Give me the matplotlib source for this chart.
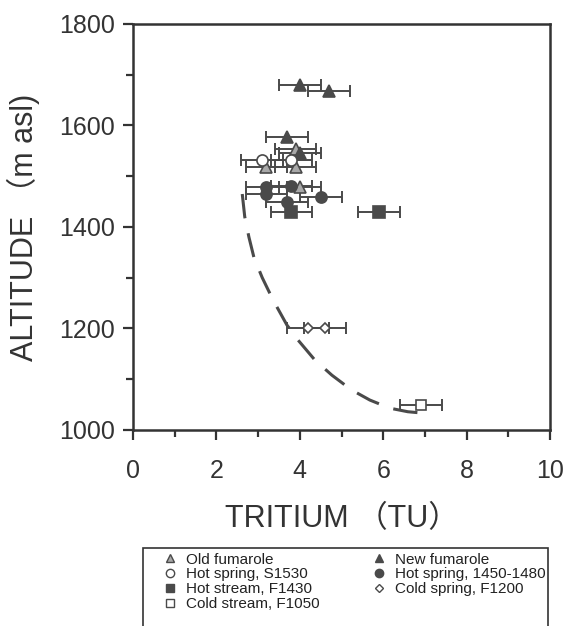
import matplotlib
matplotlib.use("Agg")
import matplotlib.pyplot as plt
from matplotlib.patches import Rectangle
from matplotlib.lines import Line2D

plt.rcParams['font.family'] = ['Liberation Sans', 'Noto Sans CJK SC', 'DejaVu Sans']

# datos
old_fum_x = [3.9, 3.2, 3.9, 4.0]
old_fum_y = [1554, 1518, 1518, 1478]

new_fum_x = [4.0, 4.7, 3.7, 4.0]
new_fum_y = [1680, 1667, 1577, 1546]

hs_s1530_x = [3.1, 3.8]
hs_s1530_y = [1532, 1532]

hs_1450_x = [3.2, 3.8, 3.2, 4.5, 3.7]
hs_1450_y = [1478, 1480, 1465, 1460, 1450]

hot_stream_x = [3.8, 5.9]
hot_stream_y = [1430, 1430]

cold_spring_x = [4.2, 4.6]
cold_spring_y = [1200, 1200]

cold_stream_x = [6.9]
cold_stream_y = [1050]

err_tu = 0.5

curve_x = [2.62, 2.68, 2.78, 2.9, 3.1, 3.36, 3.69, 3.96, 4.36, 4.77, 5.24, 5.68, 6.16, 6.59, 7.12]
curve_y = [1465, 1420, 1380, 1340, 1300, 1256, 1207, 1177, 1138, 1108, 1079, 1059, 1043, 1036, 1032]

dark = '#4a4a4a'
axc = '#333333'

fig = plt.figure(figsize=(5.63, 6.26), dpi=100)
ax = fig.add_axes([133/563, 1-430/626, (550-133)/563, (430-24)/626])

ax.plot(curve_x, curve_y, color=dark, lw=2.2, dashes=(8, 5), zorder=1)

def serie(x, y, marker, fc, ec, ms):
    ax.errorbar(x, y, xerr=err_tu, fmt='none', ecolor=dark, elinewidth=1.4,
                capsize=4, capthick=1.4, zorder=2)
    ax.plot(x, y, linestyle='none', marker=marker, mfc=fc, mec=ec, ms=ms,
            mew=1.2, zorder=3)

serie(old_fum_x, old_fum_y, '^', '#a8a8a8', dark, 8)
serie(new_fum_x, new_fum_y, '^', dark, dark, 8)
serie(hs_s1530_x, hs_s1530_y, 'o', 'white', dark, 8)
serie(hs_1450_x, hs_1450_y, 'o', dark, dark, 8)
serie(hot_stream_x, hot_stream_y, 's', dark, dark, 8)
serie(cold_spring_x, cold_spring_y, 'D', 'white', dark, 5.5)
serie(cold_stream_x, cold_stream_y, 's', 'white', dark, 7.5)

ax.set_xlim(0, 10)
ax.set_ylim(1000, 1800)
ax.set_xticks([0, 2, 4, 6, 8, 10])
ax.set_xticks([1, 3, 5, 7, 9], minor=True)
ax.set_yticks([1000, 1200, 1400, 1600, 1800])
ax.set_yticks([1100, 1300, 1500, 1700], minor=True)
ax.tick_params(which='both', direction='out', color=axc, width=1.6,
               labelsize=18, labelcolor='#333333', top=False, right=False)
ax.tick_params(which='major', length=7, pad=6)
ax.tick_params(which='minor', length=5)
ax.tick_params(axis='x', pad=14)
for s in ax.spines.values():
    s.set_color(axc)
    s.set_linewidth(1.8)

ax.set_xlabel('TRITIUM （TU）', fontsize=22, color='#333333', labelpad=15)
ax.set_ylabel('ALTITUDE （m asl)', fontsize=22, color='#333333', labelpad=14)

# leyenda
fig.patches.append(Rectangle((143/563, -0.05), (548-143)/563, 0.05 + 1-548/626,
                             transform=fig.transFigure, fill=False,
                             edgecolor=axc, lw=1.2))
handles = [
    Line2D([], [], ls='none', marker='^', mfc='#a8a8a8', mec=dark, ms=6),
    Line2D([], [], ls='none', marker='o', mfc='white', mec=dark, ms=6),
    Line2D([], [], ls='none', marker='s', mfc=dark, mec=dark, ms=6),
    Line2D([], [], ls='none', marker='s', mfc='white', mec=dark, ms=6),
    Line2D([], [], ls='none', marker='^', mfc=dark, mec=dark, ms=6),
    Line2D([], [], ls='none', marker='o', mfc=dark, mec=dark, ms=6),
    Line2D([], [], ls='none', marker='D', mfc='white', mec=dark, ms=4.5),
]
labels = ['Old fumarole', 'Hot spring, S1530', 'Hot stream, F1430', 'Cold stream, F1050',
          'New fumarole', 'Hot spring, 1450-1480', 'Cold spring, F1200']
fig.legend(handles, labels, ncol=2, frameon=False, loc='upper left',
           bbox_to_anchor=(153/563, 1-545/626), fontsize=11, labelspacing=0.05,
           handletextpad=0.45, handlelength=1.2, columnspacing=3.3, borderpad=0,
           labelcolor='#222222')

fig.savefig('out.png', dpi=100)
